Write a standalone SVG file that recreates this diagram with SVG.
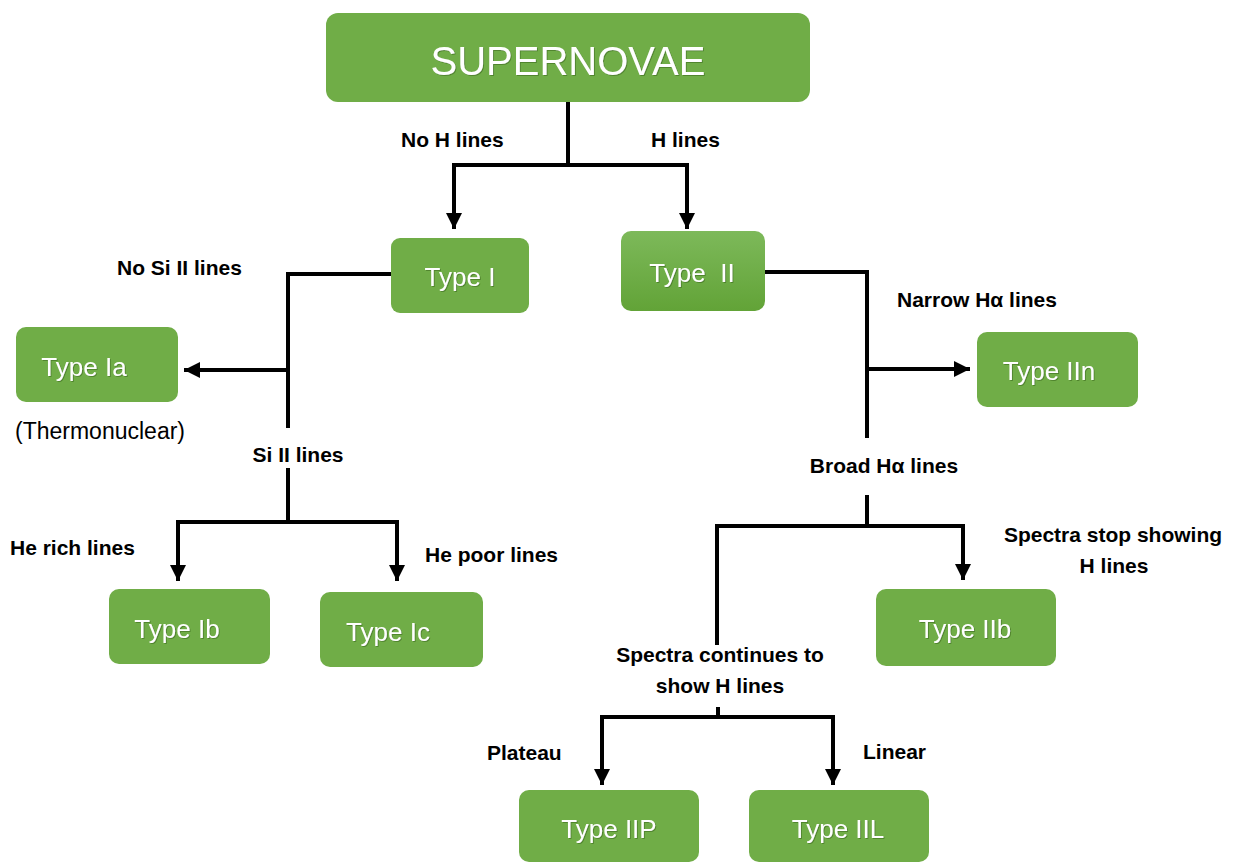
<svg xmlns="http://www.w3.org/2000/svg" width="1244" height="862" viewBox="0 0 1244 862">
<defs>
<style>
.box{fill:#70ad47;}
.bt{font-family:"Liberation Sans",Arial,sans-serif;font-size:26px;fill:#ffffff;text-anchor:middle;}
.lb{font-family:"Liberation Sans",Arial,sans-serif;font-size:21px;font-weight:bold;fill:#000000;}
.ln{fill:none;stroke:#000000;stroke-width:4;}
</style>
<linearGradient id="g2" x1="0" y1="0" x2="0" y2="1">
<stop offset="0" stop-color="#7db95a"/>
<stop offset="1" stop-color="#62a337"/>
</linearGradient>
<filter id="ts" x="-10%" y="-10%" width="120%" height="130%">
<feDropShadow dx="1" dy="1" stdDeviation="0.6" flood-color="#3d6b22" flood-opacity="0.6"/>
</filter>
<marker id="ah" markerUnits="userSpaceOnUse" markerWidth="18" markerHeight="18" refX="16" refY="8.5" orient="auto">
<path d="M0,0.5 L16,8.5 L0,16.5 Z" fill="#000000"/>
</marker>
</defs>
<rect width="1244" height="862" fill="#ffffff"/>

<g id="connectors">
<polyline class="ln" points="568,102 568,165"/>
<polyline class="ln" points="452,165 689,165"/>
<polyline class="ln" points="454,163 454,229" marker-end="url(#ah)"/>
<polyline class="ln" points="687,163 687,229" marker-end="url(#ah)"/>
<polyline class="ln" points="391,274 288,274 288,428"/>
<polyline class="ln" points="290,370 184,370" marker-end="url(#ah)"/>
<polyline class="ln" points="288,468 288,522"/>
<polyline class="ln" points="176,522 399,522"/>
<polyline class="ln" points="178,520 178,581" marker-end="url(#ah)"/>
<polyline class="ln" points="397,520 397,581" marker-end="url(#ah)"/>
<polyline class="ln" points="765,272 867,272 867,438"/>
<polyline class="ln" points="865,369 970,369" marker-end="url(#ah)"/>
<polyline class="ln" points="867,495 867,526"/>
<polyline class="ln" points="717,645 717,526 963,526 963,580" marker-end="url(#ah)"/>
<polyline class="ln" points="718,707 718,717"/>
<polyline class="ln" points="600,717 835,717"/>
<polyline class="ln" points="602,719 602,785" marker-end="url(#ah)"/>
<polyline class="ln" points="833,719 833,785" marker-end="url(#ah)"/>
</g>

<g id="supernovae">
<rect class="box" x="326" y="13" width="484" height="89" rx="12"/>
<text x="568" y="75" font-family="'Liberation Sans',Arial,sans-serif" font-size="40" fill="#ffffff" text-anchor="middle" filter="url(#ts)">SUPERNOVAE</text>
</g>
<g id="type1">
<rect class="box" x="391" y="238" width="138" height="75" rx="9"/>
<text class="bt" x="460" y="286" filter="url(#ts)">Type I</text>
</g>
<g id="type2">
<rect x="621" y="231" width="144" height="80" rx="10" fill="url(#g2)"/>
<text class="bt" x="692" y="282" filter="url(#ts)" xml:space="preserve">Type  II</text>
</g>
<g id="type1a">
<rect class="box" x="16" y="327" width="162" height="75" rx="10"/>
<text class="bt" x="84" y="376" filter="url(#ts)">Type Ia</text>
</g>
<g id="type1b">
<rect class="box" x="109" y="589" width="161" height="75" rx="10"/>
<text class="bt" x="177" y="638" filter="url(#ts)">Type Ib</text>
</g>
<g id="type1c">
<rect class="box" x="320" y="592" width="163" height="75" rx="10"/>
<text class="bt" x="388" y="641" filter="url(#ts)">Type Ic</text>
</g>
<g id="type2n">
<rect class="box" x="977" y="332" width="161" height="75" rx="10"/>
<text class="bt" x="1049" y="380" filter="url(#ts)">Type IIn</text>
</g>
<g id="type2b">
<rect class="box" x="876" y="589" width="180" height="77" rx="10"/>
<text class="bt" x="965" y="638" filter="url(#ts)">Type IIb</text>
</g>
<g id="type2p">
<rect class="box" x="519" y="790" width="180" height="72" rx="10"/>
<text class="bt" x="609" y="838" filter="url(#ts)">Type IIP</text>
</g>
<g id="type2l">
<rect class="box" x="749" y="790" width="180" height="72" rx="10"/>
<text class="bt" x="838" y="838" filter="url(#ts)">Type IIL</text>
</g>

<g id="labels">
<text class="lb" x="401" y="147">No H lines</text>
<text class="lb" x="651" y="147">H lines</text>
<text class="lb" x="117" y="275">No Si II lines</text>
<text x="15" y="439" font-family="'Liberation Sans',Arial,sans-serif" font-size="23" fill="#000000">(Thermonuclear)</text>
<text class="lb" x="298" y="462" text-anchor="middle">Si II lines</text>
<text class="lb" x="10" y="555">He rich lines</text>
<text class="lb" x="425" y="562">He poor lines</text>
<text class="lb" x="897" y="307">Narrow Hα lines</text>
<text class="lb" x="884" y="473" text-anchor="middle">Broad Hα lines</text>
<text class="lb" x="1113" y="542" text-anchor="middle">Spectra stop showing</text>
<text class="lb" x="1114" y="573" text-anchor="middle">H lines</text>
<text class="lb" x="720" y="662" text-anchor="middle">Spectra continues to</text>
<text class="lb" x="720" y="693" text-anchor="middle">show H lines</text>
<text class="lb" x="487" y="760">Plateau</text>
<text class="lb" x="863" y="759">Linear</text>
</g>
</svg>
